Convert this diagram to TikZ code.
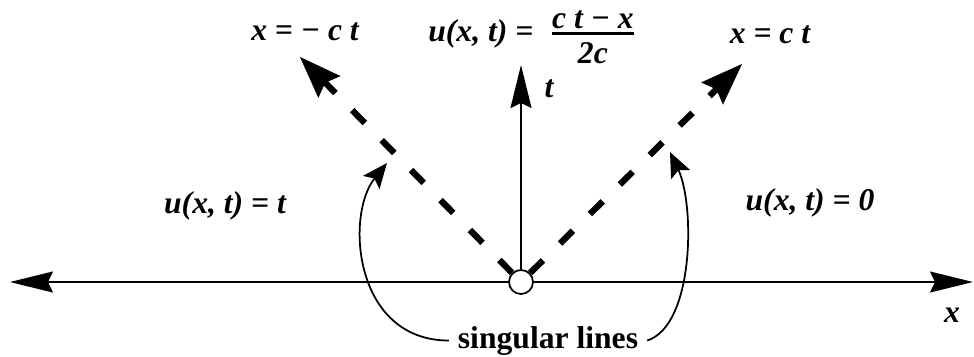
\documentclass[tikz,border=0pt]{standalone}
\usepackage{amsmath}
\usepackage{fontspec}
\setmainfont{Liberation Serif}
\usetikzlibrary{arrows.meta,positioning}

\begin{document}
\begin{tikzpicture}[
    x=0.02cm, y=-0.02cm,
    >={Stealth[length=0.86cm,width=0.42cm,inset=0.1cm]},
    axisline/.style={line width=1pt},
    charline/.style={line width=3.6pt, dash pattern=on 0.36cm off 0.48cm,
      -{Stealth[length=0.84cm,width=0.62cm,inset=0.12cm,line width=0.4pt]}},
    bendarrow/.style={line width=1pt,
      -{Stealth[length=0.5cm,width=0.42cm,inset=0.1cm]}},
    lbl/.style={font=\fontsize{18}{22}\selectfont\bfseries\itshape, inner sep=0pt, anchor=base},
    singlbl/.style={font=\fontsize{18}{22}\selectfont\bfseries, inner sep=5pt, anchor=base}
]
  \useasboundingbox (0,0) rectangle (974,356);

  % axes
  \coordinate (xl) at (10,282);
  \coordinate (xr) at (973,282);
  \draw[axisline, <->] (xl) -- (xr);
  \node[circle, draw, fill=white, line width=1pt, minimum size=0.48cm, inner sep=0pt] (O) at (521,282) {};
  \coordinate (ttip) at (521,65);
  \draw[axisline, ->] (O) -- (ttip);

  % characteristics
  \coordinate (ltip) at (300,57);
  \coordinate (rtip) at (742,64);
  \draw[charline] (O) -- (ltip);
  \draw[charline] (O) -- (rtip);

  % labels
  \node[lbl] (tlab) at (549,97) {t};
  \node[lbl] (xlab) at (952,322) {x};
  \node[lbl] (eqL) at (305,40) {x = − c t};
  \node[lbl] (eqR) at (770,43) {x = c t};
  \node[lbl, anchor=base west] (uC) at (428,41) {u(x, t) = \;$\genfrac{}{}{1.6pt}{1}{\hbox{c t − x}}{\hbox{\rule{0pt}{15pt}2c}}$};
  \node[lbl] (uL) at (225,213) {u(x, t) = t};
  \node[lbl] (uR) at (810,210) {u(x, t) = 0};
  \node[singlbl] (sing) at (548,348) {singular lines};

  % pointers
  \coordinate (lhit) at (387,163);
  \coordinate (rhit) at (670,152);
  \draw[bendarrow] (sing.west) .. controls +(-95,0) and +(-42,52) .. (lhit);
  \draw[bendarrow] (sing.east) .. controls +(47,-15) and +(25,53) .. (rhit);
\end{tikzpicture}
\end{document}
